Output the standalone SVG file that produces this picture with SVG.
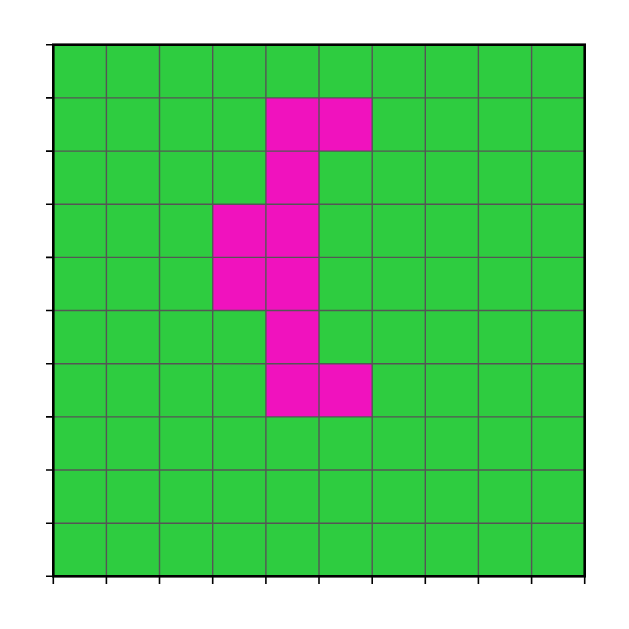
<svg xmlns="http://www.w3.org/2000/svg" width="629" height="629" viewBox="0 0 629 629">
<style>
.bg{fill:#2ECC40}
.m{fill:#F012BE}
.g{stroke:#555555;stroke-width:1.4;fill:none}
.sp{stroke:#000;stroke-width:2.6;fill:none;stroke-linecap:square}
.t{stroke:#000;stroke-width:1.6}
</style>
<rect class="bg" x="53.3" y="44.7" width="531.4" height="531.6"/>
<g id="cells">
<rect class="m" x="265.9" y="97.9" width="53.1" height="53.2"/>
<rect class="m" x="319.0" y="97.9" width="53.2" height="53.2"/>
<rect class="m" x="265.9" y="151.1" width="53.1" height="53.1"/>
<rect class="m" x="212.7" y="204.2" width="53.2" height="53.2"/>
<rect class="m" x="265.9" y="204.2" width="53.1" height="53.2"/>
<rect class="m" x="212.7" y="257.4" width="53.2" height="53.1"/>
<rect class="m" x="265.9" y="257.4" width="53.1" height="53.1"/>
<rect class="m" x="265.9" y="310.5" width="53.1" height="53.2"/>
<rect class="m" x="265.9" y="363.7" width="53.1" height="53.2"/>
<rect class="m" x="319.0" y="363.7" width="53.2" height="53.2"/>
</g>
<g id="grid" class="g">
<path d="M106.4 44.7V576.3M159.5 44.7V576.3M212.7 44.7V576.3M265.9 44.7V576.3M319.0 44.7V576.3M372.2 44.7V576.3M425.3 44.7V576.3M478.4 44.7V576.3M531.6 44.7V576.3"/>
<path d="M53.3 97.9H584.7M53.3 151.1H584.7M53.3 204.2H584.7M53.3 257.4H584.7M53.3 310.5H584.7M53.3 363.7H584.7M53.3 416.9H584.7M53.3 470.0H584.7M53.3 523.2H584.7"/>
</g>
<g id="ticks" class="t">
<path d="M46 44.7H53.3M46 97.9H53.3M46 151.1H53.3M46 204.2H53.3M46 257.4H53.3M46 310.5H53.3M46 363.7H53.3M46 416.9H53.3M46 470.0H53.3M46 523.2H53.3M46 576.3H53.3"/>
<path d="M53.3 576.3V584M106.4 576.3V584M159.5 576.3V584M212.7 576.3V584M265.9 576.3V584M319.0 576.3V584M372.2 576.3V584M425.3 576.3V584M478.4 576.3V584M531.6 576.3V584M584.7 576.3V584"/>
</g>
<rect class="sp" x="53.3" y="44.7" width="531.4" height="531.6"/>
</svg>
